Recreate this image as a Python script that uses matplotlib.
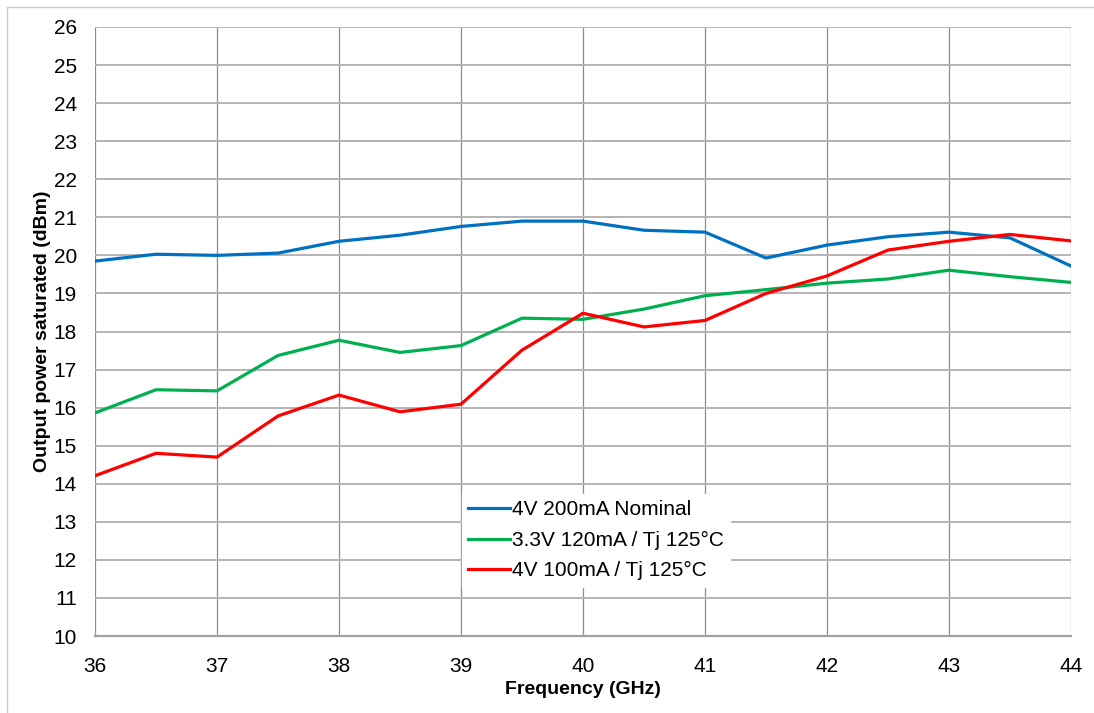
import matplotlib
matplotlib.use("Agg")
import matplotlib.pyplot as plt
from matplotlib.patches import Rectangle

plt.rcParams['font.family'] = ['Liberation Sans', 'DejaVu Sans']

freq = [36, 36.5, 37, 37.5, 38, 38.5, 39, 39.5, 40, 40.5, 41, 41.5, 42, 42.5, 43, 43.5, 44]
nominal_4v_200ma = [19.85, 20.03, 20.0, 20.06, 20.37, 20.53, 20.76, 20.9, 20.9,
                    20.66, 20.61, 19.93, 20.27, 20.49, 20.61, 20.46, 19.72]
hot_33v_120ma = [15.86, 16.47, 16.44, 17.37, 17.77, 17.45, 17.63, 18.35, 18.32,
                 18.59, 18.94, 19.1, 19.27, 19.38, 19.61, 19.44, 19.29]
hot_4v_100ma = [14.21, 14.8, 14.7, 15.78, 16.33, 15.89, 16.09, 17.51, 18.48,
                18.12, 18.29, 19.0, 19.46, 20.14, 20.37, 20.55, 20.38]

series_labels = ["4V 200mA Nominal", "3.3V 120mA / Tj 125°C", "4V 100mA / Tj 125°C"]
series_colors = ["#0070C0", "#00B050", "#FF0000"]

fig = plt.figure(figsize=(10.94, 7.13), dpi=100)
ax = fig.add_axes([95 / 1094, 1 - 636 / 713, 976 / 1094, 609 / 713])

# thin grey frame around the chart area
fig.patches.append(Rectangle((7 / 1094, -0.1), 1.2, 1 - 7 / 713 + 0.1,
                             transform=fig.transFigure, fill=False,
                             edgecolor="#c8c8c8", linewidth=1.0))

for vals, lab, col in zip([nominal_4v_200ma, hot_33v_120ma, hot_4v_100ma],
                          series_labels, series_colors):
    ax.plot(freq, vals, color=col, linewidth=2.3, label=lab, zorder=3)

ax.set_xlim(36, 44)
ax.set_ylim(10, 26)
ax.set_xticks(range(36, 45))
ax.set_yticks(range(10, 27))
ax.tick_params(axis="both", length=0, labelsize=15)
ax.tick_params(axis="y", pad=13)
ax.tick_params(axis="x", pad=15)

ax.yaxis.grid(True, color="#b4b4b4", linewidth=1.4)
ax.xaxis.grid(True, color="#8c8c8c", linewidth=0.9)
ax.set_axisbelow(True)
for s in ax.spines.values():
    s.set_visible(False)
ax.spines["bottom"].set_visible(True)
ax.spines["bottom"].set_color("#a0a0a0")
ax.spines["bottom"].set_linewidth(1.6)

ax.set_xlabel("Frequency (GHz)", fontsize=14, fontweight="bold", labelpad=4)
ax.set_ylabel("Output power saturated (dBm)", fontsize=14, fontweight="bold", labelpad=2)

leg = ax.legend(loc="upper left", bbox_to_anchor=(0.365, 0.25), frameon=True,
                fontsize=15, handlelength=2.0, handletextpad=0.1,
                labelspacing=0.55, borderpad=0.3, fancybox=False)
leg.get_frame().set_edgecolor("white")
leg.get_frame().set_facecolor("white")
leg.get_frame().set_alpha(1.0)

fig.savefig("out.png", dpi=100)
